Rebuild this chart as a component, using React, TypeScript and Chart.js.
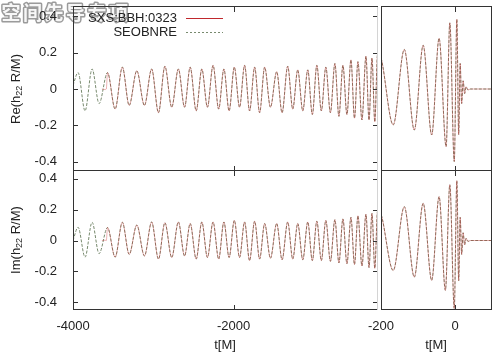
import React, { useEffect, useRef } from "react";
import { Chart, registerables } from "chart.js";
Chart.register(...registerables);

// ---------------- data ----------------
const reTimes = [
  -4000, -3937, -3850, -3762, -3675, -3570, -3475, -3385, -3300, -3205, -3110, -3020, -2935, -2855, -2770,
  -2687, -2610, -2540, -2465, -2395, -2325, -2255, -2185, -2120, -2055, -1990, -1925, -1862, -1800, -1737,
  -1675, -1612, -1540, -1462, -1395, -1325, -1262, -1200, -1137, -1075, -1018, -962, -906, -850, -793,
  -737, -687, -637, -587, -537, -493, -450, -400, -350, -312, -275, -240, -205, -167, -137,
  -110, -86, -63, -43, -24, -14, -2, 5, 10, 14, 18, 22, 26, 30, 35, 42, 100,
];
const reValues = [
  0.02, 0.09, -0.12, 0.11, -0.08, 0.09, -0.11, 0.12, -0.09, 0.10, -0.09, 0.11, -0.13, 0.125, -0.10,
  0.11, -0.10, 0.12, -0.12, 0.11, -0.10, 0.13, -0.11, 0.11, -0.12, 0.12, -0.10, 0.13, -0.12, 0.12,
  -0.13, 0.12, -0.10, 0.095, -0.13, 0.125, -0.11, 0.105, -0.12, 0.105, -0.14, 0.13, -0.12, 0.12, -0.13,
  0.14, -0.15, 0.13, -0.14, 0.16, -0.16, 0.15, -0.17, 0.18, -0.17, 0.17, -0.18, 0.19, -0.197, 0.217,
  -0.225, 0.24, -0.252, 0.278, -0.316, 0.363, -0.398, 0.382, -0.25, 0.14, -0.08, 0.045, -0.025, 0.012, -0.005, 0, 0,
];
const imTimes = [
  -4000, -3937, -3850, -3762, -3675, -3570, -3475, -3385, -3300, -3205, -3110, -3020, -2935, -2855, -2770,
  -2687, -2610, -2540, -2465, -2395, -2325, -2255, -2185, -2120, -2055, -1990, -1925, -1862, -1800, -1737,
  -1675, -1612, -1540, -1462, -1395, -1325, -1262, -1200, -1137, -1075, -1018, -962, -906, -850, -793,
  -737, -687, -637, -587, -537, -493, -450, -400, -350, -312, -275, -240, -205, -167, -137,
  -110, -86, -63, -43, -26, -14, -2, 5, 10, 14, 18, 22, 26, 30, 35, 42, 100,
];
const imValues = [
  0.0, 0.086, -0.108, 0.118, -0.085, 0.084, -0.108, 0.118, -0.09, 0.10, -0.10, 0.12, -0.12, 0.115, -0.11,
  0.12, -0.10, 0.11, -0.12, 0.12, -0.11, 0.12, -0.12, 0.12, -0.11, 0.13, -0.11, 0.12, -0.13, 0.125,
  -0.12, 0.11, -0.115, 0.11, -0.125, 0.12, -0.12, 0.11, -0.125, 0.12, -0.13, 0.125, -0.13, 0.13, -0.135,
  0.135, -0.145, 0.14, -0.15, 0.15, -0.155, 0.16, -0.165, 0.17, -0.175, 0.175, -0.18, 0.19, -0.194, 0.219,
  -0.237, 0.241, -0.258, 0.284, -0.323, 0.361, -0.44, 0.387, -0.26, 0.15, -0.09, 0.05, -0.028, 0.014, -0.006, 0, 0,
];
// NR (SXS) data begins later, with a short stretch of junk radiation
const sxsStartTime = -3575;
const sxsJunkTimes = [-3640, -3600, -3585];
const sxsJunkRe = [0.0, -0.003, 0.0];
const sxsJunkIm = [0.0, 0.002, 0.0];

const yTicks = [-0.4, -0.2, 0, 0.2, 0.4];
const xTicksLeft = [-4000, -2000];
const xTicksRight = [-200, 0];
const leftRange = [-4000, -200];
const rightRange = [-200, 100];
const yRange = [-0.45, 0.45];

const seriesNames = ["SXS:BBH:0323", "SEOBNRE"];
const yTitles = ["Re(h", "Im(h"];
const xTitle = "t[M]";
const watermark = ["空", "间", "先", "导", "专", "项"];

// ---------------- style ----------------
const W = 500;
const H = 355;
const FONT = '"Liberation Sans", Arial, Helvetica, sans-serif';
const RED = "rgba(200,40,45,0.35)";
const RED_LEGEND = "#c0282d";
const GREEN = "rgb(120,138,110)";
const INK = "#222";
const FRAME = "#333";

type P = { x: number; y: number };
const toPts = (t: number[], v: number[]): P[] => t.map((x, i) => ({ x, y: v[i] }));
const sxsPts = (t: number[], v: number[], jt: number[], jv: number[]): P[] =>
  toPts(jt, jv).concat(toPts(t, v).filter((p) => p.x >= sxsStartTime));

type Rect = { x: number; y: number; w: number; h: number };
type PanelCfg = {
  rect: Rect;
  xr: number[];
  xTicks: number[];
  xLabels: boolean;
  yLabels: boolean;
  leftTicks: boolean;
  rightTicks: boolean;
  rightBorder: string | null;
  red: P[];
  green: P[];
  extra?: (ctx: CanvasRenderingContext2D) => void;
  under?: (ctx: CanvasRenderingContext2D) => void;
};

function drawTitleWithSub(ctx: CanvasRenderingContext2D, pre: string, sub: string, post: string, cx: number, cy: number) {
  ctx.save();
  ctx.translate(cx, cy);
  ctx.rotate(-Math.PI / 2);
  ctx.fillStyle = INK;
  ctx.textBaseline = "middle";
  ctx.textAlign = "left";
  const big = `13px ${FONT}`;
  const small = `9px ${FONT}`;
  ctx.font = big;
  const w1 = ctx.measureText(pre).width;
  const w3 = ctx.measureText(post).width;
  ctx.font = small;
  const w2 = ctx.measureText(sub).width;
  let x = -(w1 + w2 + w3) / 2;
  ctx.font = big;
  ctx.fillText(pre, x, 0);
  x += w1;
  ctx.font = small;
  ctx.fillText(sub, x, 4);
  x += w2;
  ctx.font = big;
  ctx.fillText(post, x, 0);
  ctx.restore();
}

function drawWatermark(ctx: CanvasRenderingContext2D) {
  ctx.save();
  ctx.font = `bold 19px "Noto Sans CJK SC", sans-serif`;
  ctx.textAlign = "center";
  ctx.textBaseline = "middle";
  ctx.lineJoin = "round";
  watermark.forEach((ch, i) => {
    const cx = 11 + i * 21.5;
    ctx.strokeStyle = "rgba(130,130,130,0.8)";
    ctx.lineWidth = 3;
    ctx.strokeText(ch, cx, 13);
    ctx.fillStyle = "#f7f7f7";
    ctx.fillText(ch, cx, 13);
  });
  ctx.restore();
}

function drawOverlayText(ctx: CanvasRenderingContext2D) {
  drawTitleWithSub(ctx, yTitles[0], "22", " R/M)", 16, 89);
  drawTitleWithSub(ctx, yTitles[1], "22", " R/M)", 16, 240);
  ctx.save();
  ctx.fillStyle = INK;
  ctx.font = `13px ${FONT}`;
  ctx.textAlign = "center";
  ctx.textBaseline = "middle";
  ctx.fillText(xTitle, 225, 345);
  ctx.fillText(xTitle, 436, 345);
  ctx.textAlign = "right";
  ctx.fillText(seriesNames[0], 177, 18);
  ctx.fillText(seriesNames[1], 177, 32);
  ctx.lineWidth = 1;
  ctx.strokeStyle = RED_LEGEND;
  ctx.beginPath();
  ctx.moveTo(186, 18.5);
  ctx.lineTo(223, 18.5);
  ctx.stroke();
  ctx.strokeStyle = GREEN;
  ctx.setLineDash([2, 2]);
  ctx.beginPath();
  ctx.moveTo(186, 32.5);
  ctx.lineTo(223, 32.5);
  ctx.stroke();
  ctx.setLineDash([]);
  ctx.restore();
}

function makeChart(canvas: HTMLCanvasElement, cfg: PanelCfg) {
  const { rect } = cfg;
  const leftSpace = rect.x;
  const bottomSpace = H - rect.y - rect.h;
  const framePlugin = {
    id: "frame",
    beforeDraw(chart: any) {
      if (cfg.under) cfg.under(chart.ctx);
    },
    afterDraw(chart: any) {
      const ctx: CanvasRenderingContext2D = chart.ctx;
      const a = chart.chartArea;
      const xs = chart.scales.x;
      const ys = chart.scales.y;
      ctx.save();
      ctx.lineWidth = 1;
      ctx.strokeStyle = FRAME;
      const TL = 5;
      ctx.beginPath();
      for (const v of cfg.xTicks) {
        const px = Math.round(xs.getPixelForValue(v)) + 0.5;
        if (px < a.left + 1 || px > a.right - 1) continue;
        ctx.moveTo(px, a.bottom);
        ctx.lineTo(px, a.bottom - TL);
        ctx.moveTo(px, a.top);
        ctx.lineTo(px, a.top + TL);
      }
      for (const v of yTicks) {
        const py = Math.round(ys.getPixelForValue(v)) + 0.5;
        if (cfg.leftTicks) {
          ctx.moveTo(a.left, py);
          ctx.lineTo(a.left + TL, py);
        }
        if (cfg.rightTicks) {
          ctx.moveTo(a.right, py);
          ctx.lineTo(a.right - TL, py);
        }
      }
      ctx.stroke();
      ctx.beginPath();
      ctx.moveTo(a.left, a.top - 0.5);
      ctx.lineTo(a.right, a.top - 0.5);
      ctx.moveTo(a.left, a.bottom - 0.5);
      ctx.lineTo(a.right, a.bottom - 0.5);
      ctx.moveTo(a.left + 0.5, a.top);
      ctx.lineTo(a.left + 0.5, a.bottom);
      ctx.stroke();
      if (cfg.rightBorder) {
        ctx.strokeStyle = cfg.rightBorder;
        ctx.beginPath();
        ctx.moveTo(a.right - 0.5, a.top);
        ctx.lineTo(a.right - 0.5, a.bottom);
        ctx.stroke();
      }
      ctx.restore();
      if (cfg.extra) cfg.extra(ctx);
    },
  };
  const zero = (s: any) => {
    s.paddingLeft = 0;
    s.paddingRight = 0;
    s.paddingTop = 0;
    s.paddingBottom = 0;
  };
  return new Chart(canvas, {
    type: "line",
    data: {
      datasets: [
        {
          label: seriesNames[0],
          data: cfg.red,
          borderColor: RED,
          borderWidth: 1,
          pointRadius: 0,
          cubicInterpolationMode: "monotone",
          fill: false,
        },
        {
          label: seriesNames[1],
          data: cfg.green,
          borderColor: GREEN,
          borderWidth: 1,
          borderDash: [3, 1.5],
          pointRadius: 0,
          cubicInterpolationMode: "monotone",
          fill: false,
        },
      ],
    } as any,
    options: {
      animation: false,
      responsive: false,
      devicePixelRatio: 1,
      events: [],
      layout: {
        padding: {
          left: cfg.yLabels ? 0 : leftSpace,
          top: rect.y,
          right: W - rect.x - rect.w,
          bottom: cfg.xLabels ? 0 : bottomSpace,
        },
      },
      plugins: { legend: { display: false }, tooltip: { enabled: false }, title: { display: false } },
      scales: {
        x: {
          type: "linear",
          min: cfg.xr[0],
          max: cfg.xr[1],
          grid: { display: false },
          border: { display: false },
          afterBuildTicks: (s: any) => {
            s.ticks = cfg.xTicks.map((v) => ({ value: v }));
          },
          afterFit: (s: any) => {
            s.height = cfg.xLabels ? bottomSpace : 0;
            zero(s);
          },
          ticks: {
            display: cfg.xLabels,
            autoSkip: false,
            maxRotation: 0,
            padding: 1,
            color: INK,
            font: { family: FONT, size: 13 },
            callback: (v: any) => String(v),
          },
        },
        y: {
          type: "linear",
          min: yRange[0],
          max: yRange[1],
          grid: { display: false },
          border: { display: false },
          afterBuildTicks: (s: any) => {
            s.ticks = yTicks.map((v) => ({ value: v }));
          },
          afterFit: (s: any) => {
            s.width = cfg.yLabels ? leftSpace : 0;
            zero(s);
          },
          ticks: {
            display: cfg.yLabels,
            autoSkip: false,
            padding: 8,
            color: INK,
            font: { family: FONT, size: 13 },
            callback: (v: any) => (Math.abs(v) < 1e-9 ? "0" : Number(v).toFixed(1)),
          },
        },
      },
    } as any,
    plugins: [framePlugin],
  });
}

function Panel({ cfg }: { cfg: PanelCfg }) {
  const ref = useRef<HTMLCanvasElement | null>(null);
  useEffect(() => {
    if (!ref.current) return;
    const ch = makeChart(ref.current, cfg);
    return () => ch.destroy();
  }, []);
  return (
    <canvas
      ref={ref}
      width={W}
      height={H}
      style={{ position: "absolute", left: 0, top: 0, width: W, height: H }}
    />
  );
}

const reGreen = toPts(reTimes, reValues);
const imGreen = toPts(imTimes, imValues);
const reRed = sxsPts(reTimes, reValues, sxsJunkTimes, sxsJunkRe);
const imRed = sxsPts(imTimes, imValues, sxsJunkTimes, sxsJunkIm);

const TOP = { y: 7, h: 164 };
const BOT = { y: 171, h: 139 };
const LEFT = { x: 73, w: 305 };
const RIGHT = { x: 381, w: 111 };

const panels: PanelCfg[] = [
  {
    rect: { x: LEFT.x, y: BOT.y, w: LEFT.w, h: BOT.h },
    xr: leftRange, xTicks: xTicksLeft, xLabels: true, yLabels: true,
    leftTicks: true, rightTicks: true, rightBorder: "#d4d4d4",
    red: imRed, green: imGreen,
  },
  {
    rect: { x: RIGHT.x, y: BOT.y, w: RIGHT.w, h: BOT.h },
    xr: rightRange, xTicks: xTicksRight, xLabels: true, yLabels: false,
    leftTicks: false, rightTicks: false, rightBorder: FRAME,
    red: imRed, green: imGreen,
  },
  {
    rect: { x: RIGHT.x, y: TOP.y, w: RIGHT.w, h: TOP.h },
    xr: rightRange, xTicks: xTicksRight, xLabels: false, yLabels: false,
    leftTicks: false, rightTicks: false, rightBorder: FRAME,
    red: reRed, green: reGreen,
  },
  {
    rect: { x: LEFT.x, y: TOP.y, w: LEFT.w, h: TOP.h },
    xr: leftRange, xTicks: xTicksLeft, xLabels: false, yLabels: true,
    leftTicks: true, rightTicks: true, rightBorder: "#d4d4d4",
    red: reRed, green: reGreen,
    under: drawWatermark,
    extra: drawOverlayText,
  },
];

export default function App() {
  return (
    <div style={{ position: "fixed", left: 0, top: 0, width: W, height: H, background: "#fff", overflow: "hidden" }}>
      {panels.map((p, i) => (
        <Panel key={i} cfg={p} />
      ))}
    </div>
  );
}
